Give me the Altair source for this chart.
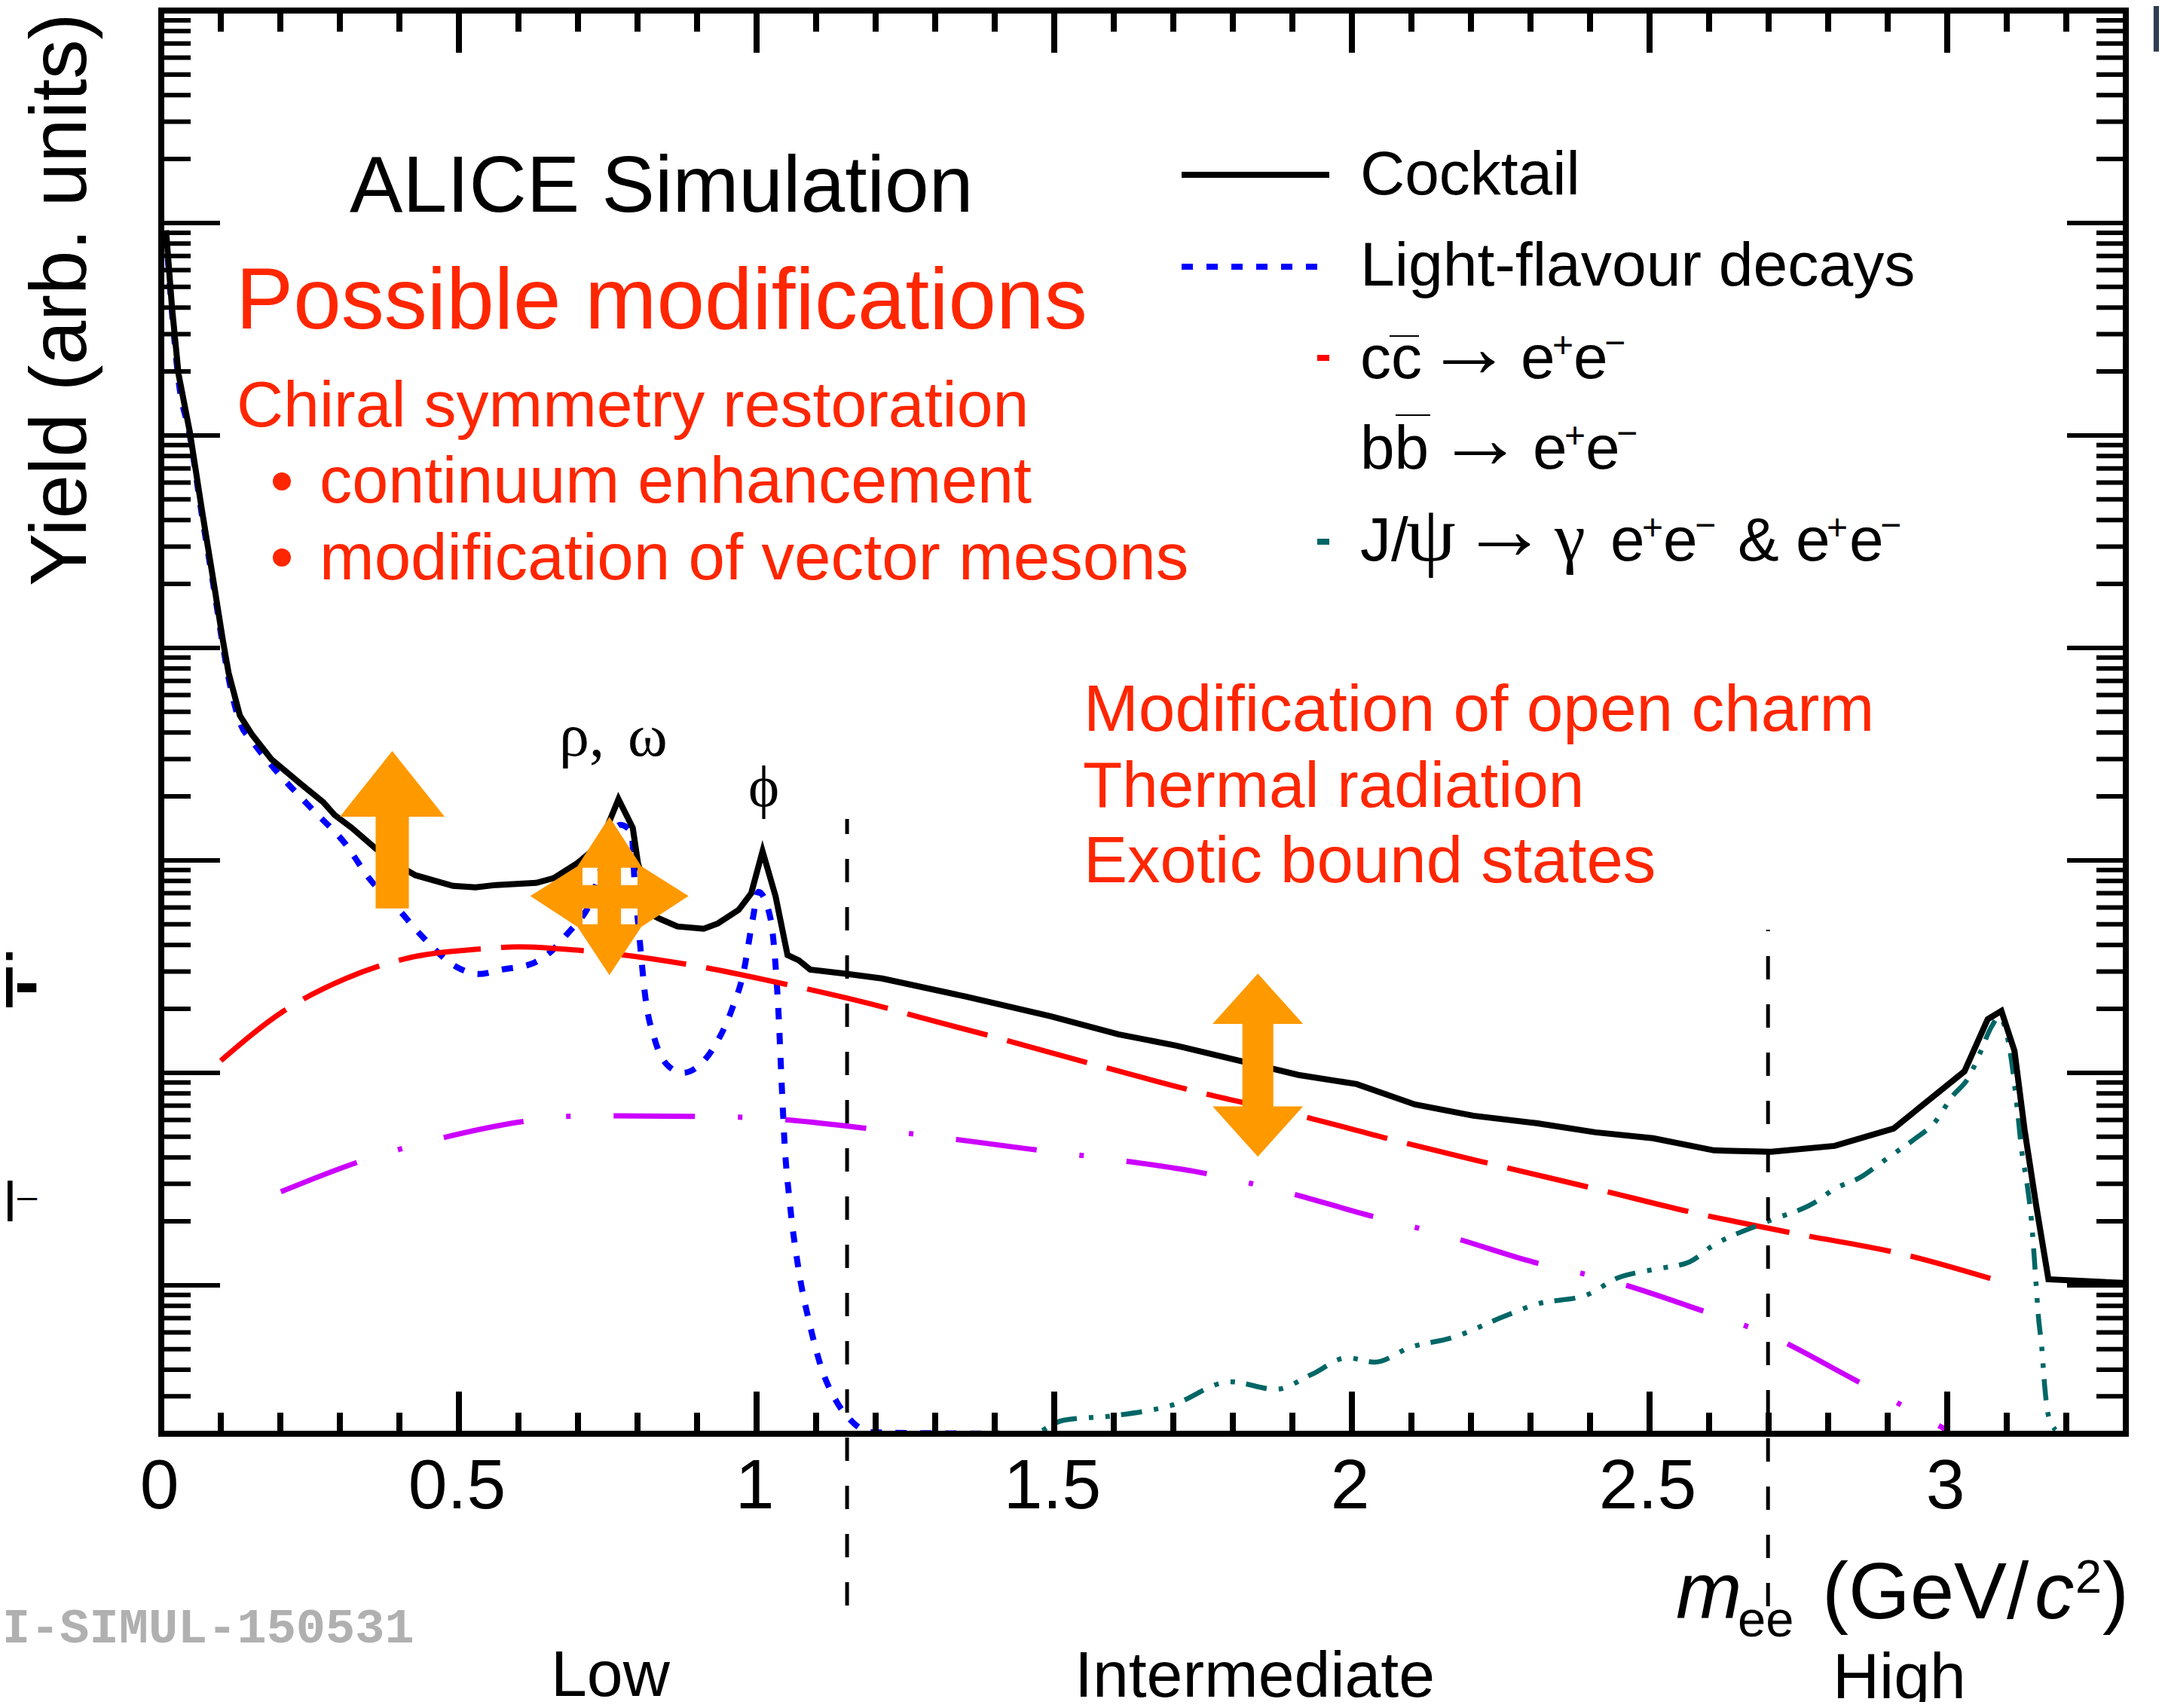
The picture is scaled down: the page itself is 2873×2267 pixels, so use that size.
import altair as alt
import pandas as pd

# ---------- data (x in GeV/c^2, y as log10 of yield) ----------
cocktail_x = [.008,.018,.029,.048,.068,.089,.103,.113,.132,.153,.185,.233,.272,.291,.320,.358,.387,.427,.490,.528,.562,.630,.659,.697,.737,.768,.792,.801,.830,.838,.867,.911,.935,.970,.991,1.010,1.032,1.052,1.071,1.090,1.153,1.211,1.351,1.494,1.608,1.705,1.811,1.910,2.008,2.106,2.204,2.310,2.409,2.506,2.608,2.704,2.811,2.910,3.029,3.068,3.091,3.113,3.130,3.149,3.170,3.295]
cocktail_v = [4.966,4.604,4.289,4.016,3.654,3.292,3.044,2.884,2.682,2.590,2.476,2.363,2.274,2.214,2.153,2.061,1.994,1.930,1.880,1.873,1.884,1.894,1.916,1.983,2.075,2.288,2.153,1.983,1.735,1.724,1.689,1.678,1.703,1.767,1.845,2.043,1.830,1.554,1.529,1.486,1.465,1.444,1.359,1.266,1.181,1.128,1.057,.990,.947,.851,.798,.763,.720,.692,.635,.628,.656,.738,1.007,1.252,1.291,1.103,.731,.383,.028,.011]

light_x = [.008,.018,.029,.048,.068,.089,.103,.113,.132,.153,.185,.252,.310,.349,.397,.437,.495,.533,.572,.620,.649,.684,.713,.771,.790,.795,.803,.813,.829,.853,.877,.901,.930,.959,.978,.994,1.003,1.023,1.032,1.037,1.042,1.047,1.056,1.071,1.090,1.109,1.134,1.158,1.192,1.420]
light_v = [4.95,4.58,4.26,4.0,3.63,3.27,3.02,2.86,2.65,2.56,2.448,2.245,2.075,1.916,1.774,1.646,1.500,1.465,1.486,1.511,1.557,1.660,1.759,2.167,2.132,1.901,1.646,1.359,1.156,1.029,1.000,1.029,1.128,1.302,1.472,1.731,1.852,1.731,1.500,1.273,.958,.670,.383,.067,-.192,-.390,-.546,-.635,-.692,-.699]

charm_x = [.100,.204,.310,.408,.533,.601,.708,.882,1.052,1.222,1.259,1.396,1.562,1.728,1.933,2.068,2.234,2.409,2.575,2.749,2.915,3.089]
charm_v = [1.057,1.288,1.444,1.536,1.582,1.593,1.575,1.511,1.415,1.302,1.273,1.171,1.043,.919,.784,.685,.571,.454,.341,.241,.153,.018]

beauty_x = [.201,.329,.470,.606,.678,.756,.891,.970,1.042,1.177,1.320,1.456,1.608,1.743,1.887,2.023,2.167,2.295,2.439,2.567,2.711,2.832,2.999]
beauty_v = [.440,.578,.692,.770,.795,.798,.795,.791,.780,.741,.692,.642,.589,.532,.440,.333,.227,.117,.018,-.099,-.248,-.426,-.681]

jpsi_x = [1.400,1.450,1.516,1.600,1.698,1.796,1.872,1.933,1.992,2.038,2.099,2.167,2.257,2.310,2.394,2.447,2.506,2.567,2.605,2.696,2.780,2.809,2.856,2.876,2.904,2.947,2.978,3.008,3.037,3.054,3.075,3.087,3.105,3.119,3.125,3.134,3.141,3.149,3.153,3.159,3.163,3.170,3.182]
jpsi_v = [-.690,-.715,-.635,-.614,-.564,-.454,-.490,-.419,-.341,-.362,-.291,-.248,-.145,-.089,-.046,.035,.074,.110,.184,.298,.394,.451,.511,.550,.607,.692,.763,.887,.983,1.086,1.220,1.263,1.110,.795,.635,.479,.319,.018,-.142,-.298,-.451,-.614,-.681]

x_tick_labels = [0, 0.5, 1, 1.5, 2, 2.5, 3]
x_minor = [.1,.2,.3,.4,.6,.7,.8,.9,1.1,1.2,1.3,1.4,1.6,1.7,1.8,1.9,2.1,2.2,2.3,2.4,2.6,2.7,2.8,2.9,3.1,3.2]
y_major = [1,10,100,1000,10000,100000]
y_minor = [m * d for d in [.1,1,10,100,1000,10000,100000] for m in [2,3,4,5,6,7,8,9]]

# ---------- layout of the page (pixels) ----------
X0, Y0, W, H = 214, 14, 2607, 1889
SANS, SERIF, MONO = "Liberation Sans", "Liberation Serif", "Liberation Mono"
BLACK, RED_T, ORANGE = "#000000", "#ff2600", "#ff9900"
ONE = pd.DataFrame({"k": [0]})

xs = alt.Scale(domain=[0, 3.3], nice=False, zero=False)
ys = alt.Scale(type="log", domain=[0.2, 1e6], nice=False)
x_ax = alt.Axis(values=x_tick_labels, domain=False, ticks=False, grid=False, tickSize=0,
                labelFontSize=93, labelFont=SANS, labelColor=BLACK, labelPadding=25,
                labelOffset=-3, labelOverlap=False, labelFlush=False, format="~g")
xq = lambda f="x": alt.X(f + ":Q", scale=xs, title=None, axis=x_ax)
yq = lambda f="v": alt.Y(f + ":Q", scale=ys, title=None, axis=None)


def series(xv, lv, color, width, dash=None, interp="linear"):
    df = pd.DataFrame({"x": xv, "v": [10 ** a for a in lv]})
    kw = {"strokeDash": dash} if dash else {}
    return alt.Chart(df).mark_line(color=color, strokeWidth=width, clip=True, interpolate=interp, **kw).encode(
        x=xq(), y=yq(), order=alt.Order("x:Q"))


def txt(s, x, y, size, color=BLACK, font=SANS, **kw):
    return alt.Chart(ONE).mark_text(text=s, font=font, fontSize=size, color=color, align="left",
                                    baseline="alphabetic", **kw).encode(
        x=alt.value(x - X0), y=alt.value(y - Y0))


def px_rule(x1, y1, x2, y2, color=BLACK, width=2, **kw):
    enc = dict(x=alt.value(x1 - X0), y=alt.value(y1 - Y0))
    if x2 != x1:
        enc["x2"] = alt.value(x2 - X0)
    if y2 != y1:
        enc["y2"] = alt.value(y2 - Y0)
    return alt.Chart(ONE).mark_rule(color=color, strokeWidth=width, **kw).encode(**enc)


def y_ticks(vals, length, right=False):
    a, b = (W, W - length) if right else (0, length)
    return alt.Chart(pd.DataFrame({"v": vals})).mark_rule(color=BLACK, strokeWidth=6).encode(
        y=yq(), x=alt.value(a), x2=alt.value(b))


def x_ticks(vals, length, top=False):
    a, b = (0, length) if top else (H, H - length)
    return alt.Chart(pd.DataFrame({"x": vals})).mark_rule(color=BLACK, strokeWidth=8).encode(
        x=xq(), y=alt.value(a), y2=alt.value(b))


def vline(xv, y_bottom, y_top):
    return alt.Chart(pd.DataFrame({"x": [xv]})).mark_rule(color=BLACK, strokeWidth=5, strokeDash=[31, 33]).encode(
        x=xq(), y=alt.value(y_bottom - Y0), y2=alt.value(y_top - Y0))


def shape(path, xv, lv, span):
    return alt.Chart(pd.DataFrame({"x": [xv], "v": [10 ** lv]})).mark_point(
        shape=path, filled=True, color=ORANGE, opacity=1, strokeWidth=0, size=span ** 2).encode(x=xq(), y=yq())


UP = "M0,-1L.665,-.167L.211,-.167L.211,1L-.211,1L-.211,-.167L-.665,-.167Z"
UPDOWN = "M0,-1L.494,-.45L.169,-.45L.169,.45L.494,.45L0,1L-.494,.45L-.169,.45L-.169,-.45L-.494,-.45Z"
STAR = ("M0,-1L.403,-.376L1,0L.403,.39L0,1L-.403,.39L-1,0L-.403,-.376Z"
        "M-.34,-.357L-.34,-.138L-.15,-.138L-.15,-.357Z"
        "M.146,-.357L.146,-.138L.355,-.138L.355,-.357Z"
        "M-.34,.157L-.34,.357L-.15,.357L-.15,.157Z"
        "M.146,.157L.146,.357L.355,.357L.355,.157Z")

layers = [series(light_x, light_v, "#0000ff", 8, [15, 18], "monotone"),
          series(charm_x, charm_v, "#ff0000", 7, [110, 27], "monotone"),
          series(beauty_x, beauty_v, "#cc00ff", 7, [108, 57, 6, 57], "monotone"),
          series(jpsi_x, jpsi_v, "#006666", 6.5, [28, 16, 6, 16, 6, 15], "monotone"),
          series(cocktail_x, cocktail_v, BLACK, 8),
          vline(1.152, 2131, 1087), vline(2.699, 2132, 1234),
          y_ticks(y_minor, 39), y_ticks(y_major, 78), y_ticks(y_minor, 39, True), y_ticks(y_major, 78, True),
          x_ticks(x_minor, 28), x_ticks(x_tick_labels, 56), x_ticks(x_minor, 28, True), x_ticks(x_tick_labels, 56, True),
          shape(UP, .388, 2.144, 209), shape(STAR, .7528, 1.832, 210), shape(UPDOWN, 1.842, 1.036, 243)]

# frame
for (a, b, c, d) in [(X0, Y0, X0, Y0 + H), (X0 + W, Y0, X0 + W, Y0 + H), (X0, Y0, X0 + W, Y0), (X0, Y0 + H, X0 + W, Y0 + H)]:
    layers.append(px_rule(a, b, c, d, width=8, strokeCap="square"))

# legend keys
layers += [px_rule(1568, 232, 1764, 232, width=8),
           px_rule(1568, 354, 1750, 354, color="#0000ff", width=8, strokeDash=[15, 18]),
           px_rule(1748, 475, 1764, 475, color="#ff0000", width=8),
           px_rule(1748, 719, 1764, 719, color="#006666", width=8),
           px_rule(1844, 446, 1883, 446, width=2), px_rule(1852, 551, 1898, 551, width=2)]

# bullets
layers.append(alt.Chart(pd.DataFrame({"y": [639 - Y0, 740 - Y0]})).mark_circle(color=RED_T, opacity=1, size=576).encode(
    x=alt.value(374 - X0), y=alt.Y("y:Q", scale=None)))

texts = [
    ("Yield (arb. units)", 113.5, 778, 105, BLACK, SANS, {"angle": 270}),
    ("ALICE Simulation", 464, 281, 105.6, BLACK, SANS, {}),
    ("Possible modifications", 313, 436, 114.2, RED_T, SANS, {}),
    ("Chiral symmetry restoration", 314, 566, 86, RED_T, SANS, {}),
    ("continuum enhancement", 424, 667, 86.3, RED_T, SANS, {}),
    ("modification of vector mesons", 424, 769, 87.2, RED_T, SANS, {}),
    ("Modification of open charm", 1438, 970, 87.4, RED_T, SANS, {}),
    ("Thermal radiation", 1437, 1071, 85.5, RED_T, SANS, {}),
    ("Exotic bound states", 1438, 1171, 87, RED_T, SANS, {}),
    ("Cocktail", 1805, 258, 82, BLACK, SANS, {}),
    ("Light-flavour decays", 1805, 379, 82.3, BLACK, SANS, {}),
    ("cc", 1805, 502, 82, BLACK, SANS, {}), ("→", 1892, 500, 115, BLACK, SERIF, {}),
    ("e", 2018, 502, 82, BLACK, SANS, {}), ("+", 2060, 474, 48, BLACK, SANS, {}),
    ("e", 2088, 502, 82, BLACK, SANS, {}), ("−", 2129, 471, 48, BLACK, SANS, {}),
    ("bb", 1805, 622, 82, BLACK, SANS, {}), ("→", 1907, 621, 115, BLACK, SERIF, {}),
    ("e", 2034, 622, 82, BLACK, SANS, {}), ("+", 2076, 594, 48, BLACK, SANS, {}),
    ("e", 2104, 622, 82, BLACK, SANS, {}), ("−", 2145, 591, 48, BLACK, SANS, {}),
    ("J/", 1805, 744, 82, BLACK, SANS, {}), ("ψ", 1866, 744, 105, BLACK, SERIF, {}),
    ("→", 1939, 742, 115, BLACK, SERIF, {}), ("γ", 2063, 744, 92, BLACK, SERIF, {}),
    ("e", 2137, 744, 82, BLACK, SANS, {}), ("+", 2179, 716, 48, BLACK, SANS, {}),
    ("e", 2207, 744, 82, BLACK, SANS, {}), ("−", 2249, 713, 48, BLACK, SANS, {}),
    ("&", 2306, 744, 82, BLACK, SANS, {}),
    ("e", 2383, 744, 82, BLACK, SANS, {}), ("+", 2424, 716, 48, BLACK, SANS, {}),
    ("e", 2454, 744, 82, BLACK, SANS, {}), ("−", 2495, 713, 48, BLACK, SANS, {}),
    ("ρ,", 742, 1003, 80, BLACK, SERIF, {}), ("ω", 833, 1003, 80, BLACK, SERIF, {}),
    ("ϕ", 993, 1070, 78, BLACK, SERIF, {}),
    ("I-SIMUL-150531", 1, 2180, 65.3, "#b0b0b0", MONO, {"fontWeight": "bold"}),
    ("Low", 731, 2251, 86, BLACK, SANS, {}),
    ("Intermediate", 1426, 2252, 86, BLACK, SANS, {}),
    ("High", 2432, 2254, 86, BLACK, SANS, {}),
    ("m", 2224, 2148, 105, BLACK, SANS, {"fontStyle": "italic"}),
    ("ee", 2306, 2172, 67, BLACK, SANS, {}),
    ("(GeV/", 2418, 2148, 105, BLACK, SANS, {}),
    ("c", 2700, 2148, 105, BLACK, SANS, {"fontStyle": "italic"}),
    ("2", 2754, 2114, 63, BLACK, SANS, {}),
    (")", 2790, 2148, 105, BLACK, SANS, {}),
    ("i", -4, 1337, 100, BLACK, SANS, {"fontWeight": "bold"}),
    ("-", 19, 1337, 100, BLACK, SANS, {"fontWeight": "bold"}),
    ("l", 5, 1621, 75, BLACK, SANS, {}),
    ("–", 23, 1603, 47, BLACK, SANS, {}),
    ("R", 2852, 68, 92, "#2c3e50", "Roboto", {"fontWeight": "bold"}),
]
for (s, x, y, size, color, font, kw) in texts:
    layers.append(txt(s, x, y, size, color, font, **kw))

chart = alt.layer(*layers).properties(
    width=W, height=H,
    padding={"left": X0 - 8, "top": Y0 - 8, "right": 2873 - 8 - X0 - W, "bottom": 2267 - 8 - Y0 - H},
    autosize=alt.AutoSizeParams(type="none", contains="content"),
    background="white",
).configure_view(stroke=None)

chart.save("out.html", embed_options={"renderer": "svg", "actions": False})
